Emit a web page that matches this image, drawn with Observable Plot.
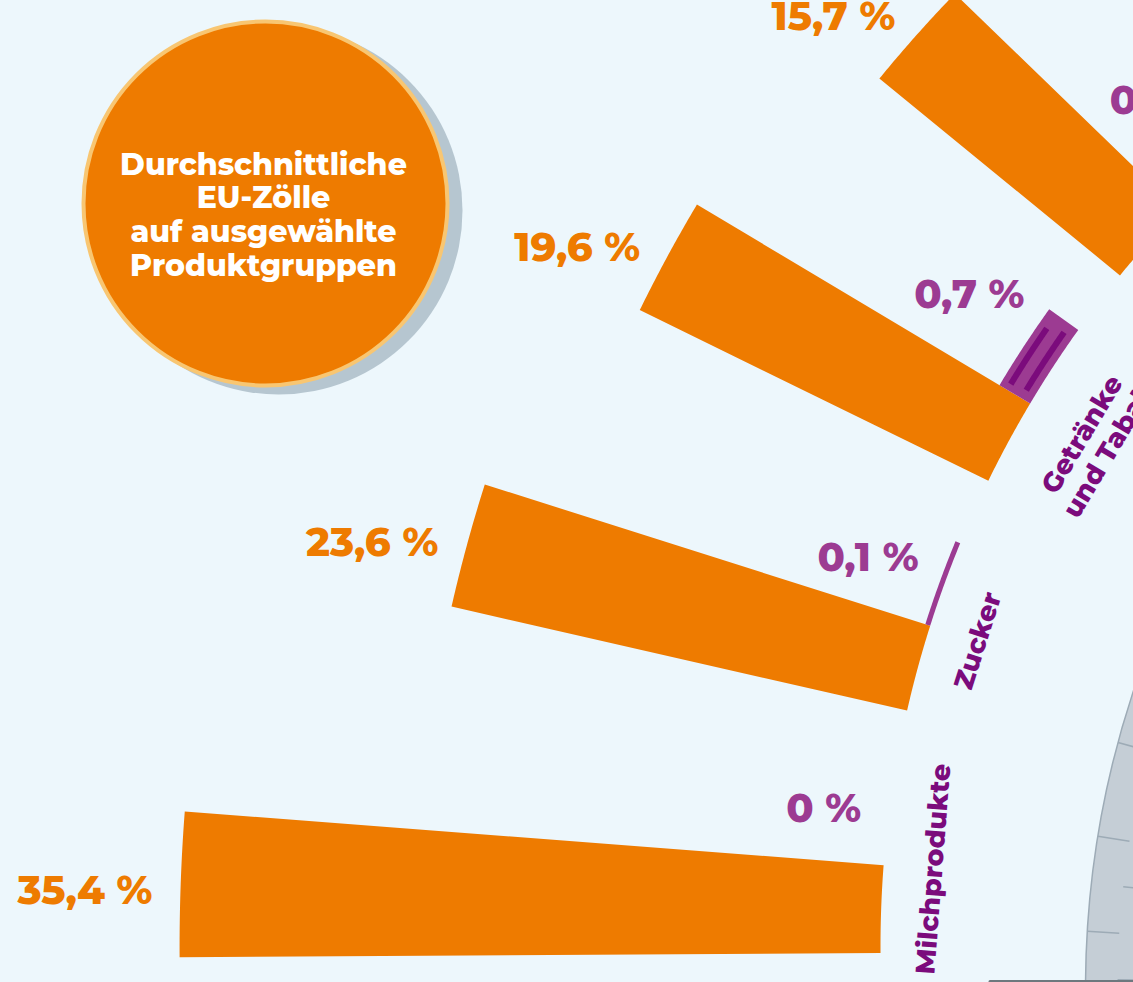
<!DOCTYPE html>
<html><head><meta charset="utf-8">
<script src="https://cdn.jsdelivr.net/npm/d3@7"></script>
<script src="https://cdn.jsdelivr.net/npm/@observablehq/plot@0.6"></script>
<style>
html,body{margin:0;padding:0;background:#edf7fc;overflow:hidden;}
#chart{width:1133px;height:982px;overflow:hidden;}
</style></head><body><div id="chart"></div>
<script>
// ---- data ----
const categories = ["Milchprodukte", "Zucker", "Getränke\nund Tabak", "Tierische\nErzeugnisse"];
const euTariff = [35.4, 23.6, 19.6, 15.7];
const euLabels = ["35,4 %", "23,6 %", "19,6 %", "15,7 %"];
const otherTariff = [0, 0.1, 0.7, 0.4];
const otherLabels = ["0 %", "0,1 %", "0,7 %", "0,4 %"];
const otherStriped = [false, false, true, false];
const titleLines = ["Durchschnittliche", "EU-Zölle", "auf ausgewählte", "Produktgruppen"];

// ---- layout ----
const W = 1133, H = 982, CX = 1940, CY = 946;
const R0 = 1060, K_EU = 19.8, K_OTHER = 51;
const SLOT0 = -0.35, SLOT_STEP = 13.21, SPAN = 4.75;
const euLabelShift = [-0.25, -0.22, -0.2, 0];        // angular nudges (deg) of the orange value labels
const otherLabelShift = [0.45, 0.8, 2.2, 3.3];      // angular nudges (deg) of the purple value labels
const ORANGE = "#ee7b00", PURPLE = "#9c3b92", DARKPURPLE = "#7b0b7c", BG = "#edf7fc";
const FONT = "Montserrat, 'DejaVu Sans', sans-serif";
const rad = d => d * Math.PI / 180;
const polar = (r, deg) => ({x: -r * Math.cos(rad(deg)), y: r * Math.sin(rad(deg))});
const px = (X, Y) => ({x: X - CX, y: CY - Y});

function sector(id, r0, r1, a0, a1, n = 40) {
  const pts = [];
  for (let i = 0; i <= n; i++) pts.push({id, ...polar(r1, a0 + (a1 - a0) * i / n)});
  for (let i = n; i >= 0; i--) pts.push({id, ...polar(r0, a0 + (a1 - a0) * i / n)});
  return pts;
}

const rows = categories.map((c, i) => {
  const a0 = SLOT0 + i * SLOT_STEP;
  return {
    i, cat: c, eu: euTariff[i], other: otherTariff[i],
    euLabel: euLabels[i], otherLabel: otherLabels[i], striped: otherStriped[i],
    a0, a1: a0 + SPAN, a2: a0 + 2 * SPAN,
    lines: c.split("\n").length
  };
});

const euPts = rows.flatMap(d => sector("eu" + d.i, R0, R0 + d.eu * K_EU, d.a0, d.a1));
const otherPts = rows.filter(d => d.other > 0)
  .flatMap(d => sector("o" + d.i, R0, R0 + d.other * K_OTHER, d.a1, d.a2));
const stripePts = rows.filter(d => d.striped).flatMap(d => {
  const t = d.other * K_OTHER;
  return [
    ...sector("s1" + d.i, R0 + t * 0.2, R0 + t * 0.37, d.a1 + 0.5, d.a2 - 0.55),
    ...sector("s2" + d.i, R0 + t * 0.66, R0 + t * 0.83, d.a1 + 0.35, d.a2 - 0.9)
  ];
});

// decorative dome (bottom right)
const DOME = px(2039, 989);
const domeR = [954, 922, 888];
const domeTiles = [
  {r0: 922, r1: 954, a: 3.5}, {r0: 922, r1: 954, a: 9.25}, {r0: 922, r1: 954, a: 15.0},
  {r0: 922, r1: 954, a: 20.75}, {r0: 888, r1: 922, a: 0.6}, {r0: 888, r1: 922, a: 6.4},
  {r0: 888, r1: 922, a: 12.2}
].map(t => {
  const p0 = polar(t.r0, t.a), p1 = polar(t.r1, t.a);
  return {x1: DOME.x + p0.x, y1: DOME.y + p0.y, x2: DOME.x + p1.x, y2: DOME.y + p1.y};
});
const ground = [{x1: px(990, 0).x, x2: px(1140, 0).x, y: px(0, 981).y}];

// title badge
const TITLE = px(265, 203), SHADOW = px(278, 210), TITLE_TEXT = px(263, 214);

const euPos = d => polar(R0 + d.eu * K_EU + 28, (d.a0 + d.a1) / 2 + euLabelShift[d.i]);
const otherPos = d => polar(R0 + d.other * K_OTHER + 28, (d.a1 + d.a2) / 2 + otherLabelShift[d.i]);
const catPos = d => polar(1011 - (d.lines - 1) * 26, d.a1);

const chart = Plot.plot({
  width: W, height: H, margin: 0,
  x: {domain: [-CX, W - CX], range: [0, W], axis: null},
  y: {domain: [CY - H, CY], range: [H, 0], axis: null},
  style: {background: BG, overflow: "hidden", fontFamily: FONT},
  marks: [
    Plot.dot([DOME], {x: "x", y: "y", r: domeR[0], fill: "#c5ced6", stroke: "#9dabb6", strokeWidth: 1.5}),
    Plot.dot(domeR.slice(1).map(r => ({...DOME, r})), {x: "x", y: "y", r: "r", fill: "none", stroke: "#9dabb6", strokeWidth: 1.5}),
    Plot.link(domeTiles, {x1: "x1", y1: "y1", x2: "x2", y2: "y2", stroke: "#9dabb6", strokeWidth: 1.5}),
    Plot.ruleY(ground, {y: "y", x1: "x1", x2: "x2", stroke: "#6d787e", strokeWidth: 3, strokeLinecap: "round"}),

    Plot.line(euPts, {x: "x", y: "y", z: "id", fill: ORANGE, stroke: "none", curve: "linear"}),
    Plot.line(otherPts, {x: "x", y: "y", z: "id", fill: PURPLE, stroke: "none", curve: "linear"}),
    Plot.line(stripePts, {x: "x", y: "y", z: "id", fill: DARKPURPLE, stroke: "none", curve: "linear"}),

    Plot.text(rows, {
      x: d => euPos(d).x, y: d => euPos(d).y,
      text: "euLabel", textAnchor: "end", fill: ORANGE, fontSize: 40, fontWeight: 800, fontFamily: FONT
    }),
    Plot.text(rows, {
      x: d => otherPos(d).x, y: d => otherPos(d).y,
      text: "otherLabel", textAnchor: "end", fill: PURPLE, fontSize: 40, fontWeight: 800, fontFamily: FONT
    }),
    Plot.text(rows, {
      x: d => catPos(d).x, y: d => catPos(d).y,
      rotate: d => d.a1 - 90,
      text: "cat", lineHeight: 1.15, fill: DARKPURPLE, fontSize: 27, fontWeight: 800, fontFamily: FONT
    }),

    Plot.dot([SHADOW], {x: "x", y: "y", r: 184, fill: "#b6c6d0"}),
    Plot.dot([TITLE], {x: "x", y: "y", r: 182, fill: ORANGE, stroke: "#f8c672", strokeWidth: 4}),
    Plot.text([titleLines.join("\n")], {
      x: () => TITLE_TEXT.x, y: () => TITLE_TEXT.y, text: d => d,
      fill: "white", fontSize: 30, fontWeight: 800, lineHeight: 1.12, fontFamily: FONT
    })
  ]
});
document.getElementById("chart").appendChild(chart);
</script>
</body></html>
